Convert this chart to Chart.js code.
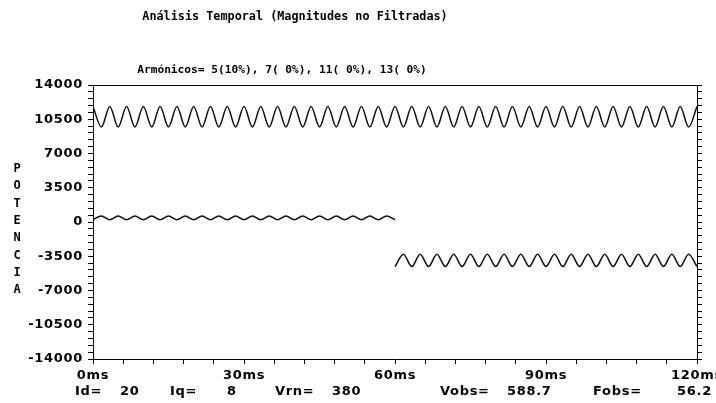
<!DOCTYPE html>
<html lang="es">
<head>
<meta charset="utf-8">
<title>Análisis Temporal</title>
<script src="https://cdn.jsdelivr.net/npm/chart.js@4.4.1/dist/chart.umd.min.js"></script>
<style>
  body { margin: 0; background: #fff; }
  #grafico { display: block; }
</style>
</head>
<body>
<canvas id="grafico" width="716" height="403"></canvas>
<script>
// Tiempo (ms) de cada máximo / mínimo de las ondas
const tiempo = [
  0, 1.67, 3.33, 5, 6.67, 8.33, 10, 11.67, 13.33, 15, 16.67, 18.33,
  20, 21.67, 23.33, 25, 26.67, 28.33, 30, 31.67, 33.33, 35, 36.67, 38.33,
  40, 41.67, 43.33, 45, 46.67, 48.33, 50, 51.67, 53.33, 55, 56.67, 58.33,
  60, 61.67, 63.33, 65, 66.67, 68.33, 70, 71.67, 73.33, 75, 76.67, 78.33,
  80, 81.67, 83.33, 85, 86.67, 88.33, 90, 91.67, 93.33, 95, 96.67, 98.33,
  100, 101.67, 103.33, 105, 106.67, 108.33, 110, 111.67, 113.33, 115, 116.67, 118.33,
  120
];

// Curva superior (0 - 120 ms)
const potenciaSup = [
  11800, 9700, 11800, 9700, 11800, 9700, 11800, 9700, 11800, 9700, 11800, 9700,
  11800, 9700, 11800, 9700, 11800, 9700, 11800, 9700, 11800, 9700, 11800, 9700,
  11800, 9700, 11800, 9700, 11800, 9700, 11800, 9700, 11800, 9700, 11800, 9700,
  11800, 9700, 11800, 9700, 11800, 9700, 11800, 9700, 11800, 9700, 11800, 9700,
  11800, 9700, 11800, 9700, 11800, 9700, 11800, 9700, 11800, 9700, 11800, 9700,
  11800, 9700, 11800, 9700, 11800, 9700, 11800, 9700, 11800, 9700, 11800, 9700,
  11800
];

// Curva inferior, primer tramo (0 - 60 ms)
const potenciaInf1 = [
  230, 620, 230, 620, 230, 620, 230, 620, 230, 620, 230, 620,
  230, 620, 230, 620, 230, 620, 230, 620, 230, 620, 230, 620,
  230, 620, 230, 620, 230, 620, 230, 620, 230, 620, 230, 620,
  230
];

// Curva inferior, segundo tramo (60 - 120 ms)
const potenciaInf2 = [
  -4550, -3300, -4550, -3300, -4550, -3300, -4550, -3300, -4550, -3300, -4550, -3300,
  -4550, -3300, -4550, -3300, -4550, -3300, -4550, -3300, -4550, -3300, -4550, -3300,
  -4550, -3300, -4550, -3300, -4550, -3300, -4550, -3300, -4550, -3300, -4550, -3300,
  -4550
];

const etiquetasY = [14000, 10500, 7000, 3500, 0, -3500, -7000, -10500, -14000];
const etiquetasX = [0, 30, 60, 90, 120];

const titulo = 'Análisis Temporal (Magnitudes no Filtradas)';
const subtitulo = 'Armónicos= 5(10%), 7( 0%), 11( 0%), 13( 0%)';
const nombreEjeY = 'POTENCIA';
const nombres = ['Id=', 'Iq=', 'Vrn=', 'Vobs=', 'Fobs='];
const medidas = ['20', '8', '380', '588.7', '56.2'];

const fuenteMono = 'DejaVu Sans Mono';
const fuente = 'DejaVu Sans';

// Pasa a pares {x, y}
function puntos(t, v) {
  return t.map((x, i) => ({ x: x, y: v[i] }));
}

function serie(datos) {
  return {
    data: datos,
    borderColor: '#111',
    borderWidth: 1.5,
    pointRadius: 0,
    fill: false,
    cubicInterpolationMode: 'monotone'
  };
}

// Textos sueltos y marco superior
const textos = {
  id: 'textos',
  beforeDraw(chart) {
    chart.ctx.letterSpacing = '0.7px';
  },
  afterDraw(chart) {
    const ctx = chart.ctx;
    const a = chart.chartArea;
    ctx.save();
    ctx.fillStyle = '#000';
    ctx.textBaseline = 'middle';
    ctx.textAlign = 'center';
    ctx.letterSpacing = '0px';
    ctx.font = 'bold 11.8px "' + fuenteMono + '"';
    ctx.fillText(titulo, 295, 17);
    ctx.font = 'bold 11.2px "' + fuenteMono + '"';
    ctx.fillText(subtitulo, 282, 70);

    // nombre del eje en vertical
    ctx.font = 'bold 12px "' + fuenteMono + '"';
    nombreEjeY.split('').forEach((c, i) => ctx.fillText(c, 17, 169 + i * 17.3));

    // fila de medidas
    ctx.textAlign = 'left';
    ctx.letterSpacing = '0.7px';
    ctx.font = 'bold 13px "' + fuente + '"';
    const xNombres = [75, 170, 275, 440, 593];
    const xMedidas = [120, 227, 332, 507, 677];
    nombres.forEach((n, i) => {
      ctx.fillText(n, xNombres[i], 392);
      ctx.fillText(medidas[i], xMedidas[i], 392);
    });

    ctx.strokeStyle = '#000';
    ctx.lineWidth = 1;
    ctx.beginPath();
    ctx.moveTo(a.left, Math.round(a.top) + 0.5);
    ctx.lineTo(a.right, Math.round(a.top) + 0.5);
    ctx.stroke();
    ctx.restore();
  }
};

const ctx = document.getElementById('grafico').getContext('2d');

new Chart(ctx, {
  type: 'line',
  data: {
    datasets: [
      serie(puntos(tiempo, potenciaSup)),
      serie(puntos(tiempo.slice(0, 37), potenciaInf1)),
      serie(puntos(tiempo.slice(36), potenciaInf2))
    ]
  },
  options: {
    responsive: false,
    animation: false,
    layout: { padding: { top: 85, left: 0, right: 0, bottom: 0 } },
    plugins: {
      legend: { display: false },
      tooltip: { enabled: false }
    },
    scales: {
      x: {
        type: 'linear',
        min: 0,
        max: 120,
        afterFit(s) { s.height = 44; s.paddingLeft = 0; s.paddingRight = 0; },
        border: { display: true, color: '#000', width: 1 },
        grid: { drawOnChartArea: false, tickLength: 5, color: '#000' },
        ticks: {
          stepSize: 6,
          autoSkip: false,
          maxRotation: 0,
          padding: 4,
          color: '#000',
          font: { family: fuente, weight: 'bold', size: 13 },
          callback: v => etiquetasX.includes(v) ? v + 'ms' : ''
        }
      },
      y: {
        type: 'linear',
        position: 'left',
        min: -14000,
        max: 14000,
        afterFit(s) { s.width = 93; },
        border: { display: true, color: '#000', width: 1 },
        grid: { drawOnChartArea: false, tickLength: 5, color: '#000' },
        ticks: {
          stepSize: 700,
          autoSkip: false,
          padding: 5,
          color: '#000',
          font: { family: fuente, weight: 'bold', size: 13 },
          callback: v => etiquetasY.includes(v) ? String(v) : ''
        }
      },
      yDer: {
        type: 'linear',
        position: 'right',
        min: -14000,
        max: 14000,
        afterFit(s) { s.width = 19; },
        border: { display: true, color: '#000', width: 1 },
        grid: { drawOnChartArea: false, tickLength: 5, color: '#000' },
        ticks: { display: false, stepSize: 700, autoSkip: false }
      }
    }
  },
  plugins: [textos]
});
</script>
</body>
</html>
